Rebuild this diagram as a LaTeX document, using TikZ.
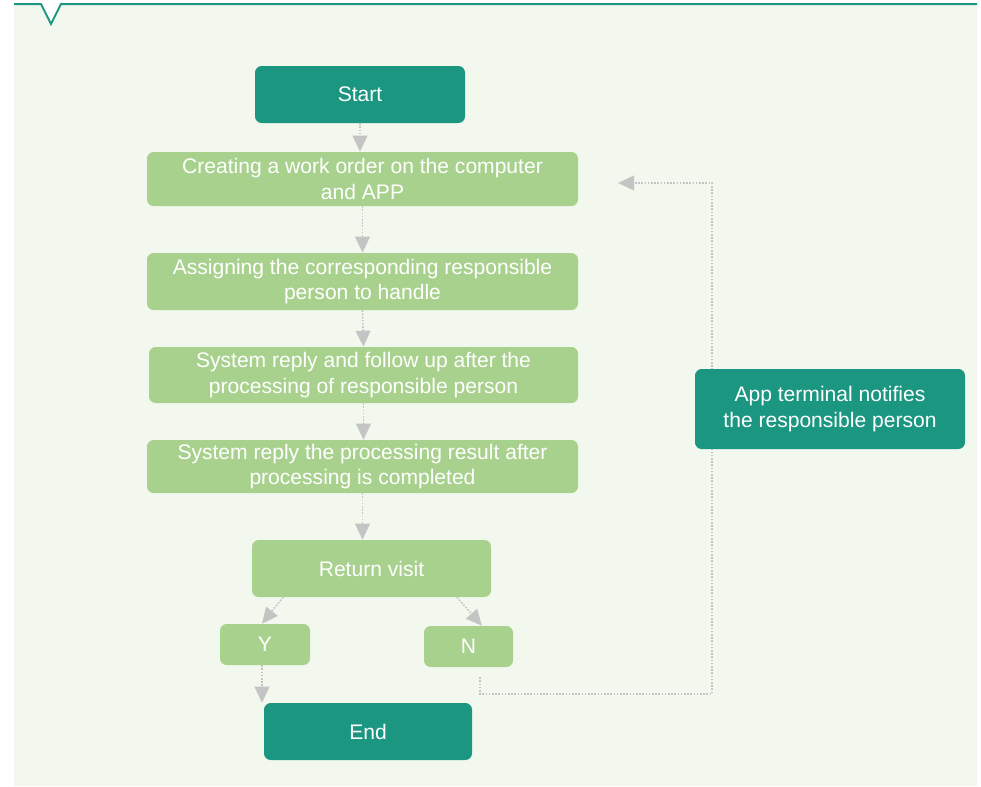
\documentclass[tikz,border=0pt]{standalone}
\usepackage{xcolor}
\usepackage{fontspec}
\setmainfont{Liberation Sans}
\usepackage{tikz}
\usetikzlibrary{arrows.meta, positioning}
\definecolor{darkteal}{RGB}{27,150,128}
\definecolor{leafgreen}{RGB}{169,209,142}
\definecolor{panelgreen}{RGB}{242,248,238}
\definecolor{linegray}{RGB}{196,196,196}
\newdimen\px \px=0.75pt

\begin{document}
\begin{tikzpicture}[x=0.75pt, y=-0.75pt,
	tealbox/.style={draw=none, fill=darkteal, rounded corners=5pt, text=white, align=center, inner sep=0pt, font=\fontsize{15.8}{19}\selectfont},
	greenbox/.style={tealbox, fill=leafgreen},
	link/.style={linegray, line width=1.2pt, dash pattern=on 1.2pt off 1.2pt, -{Triangle[length=12pt,width=11pt]}}]
				\useasboundingbox (0,0) rectangle (981,786);
				% panel with the notch on top
				\fill[panelgreen] (14,4) -- (41,4) -- (51,24) -- (61,4) -- (977,4) -- (977,786) -- (14,786) -- cycle;
				\draw[darkteal, line width=1.5pt] (14,4) -- (41,4) -- (51,24) -- (61,4) -- (977,4);
				
				\node[tealbox, minimum width=210\px, minimum height=57\px] (start) at (360,94.5) {Start};
				\node[greenbox, minimum width=431\px, minimum height=54\px] (b1) at (362.5,179) {Creating a work order on the computer\\and APP};
				\node[greenbox, minimum width=431\px, minimum height=57\px] (b2) at (362.5,281.5) {Assigning the corresponding responsible\\person to handle};
				\node[greenbox, minimum width=429\px, minimum height=56\px] (b3) at (363.5,375) {System reply and follow up after the\\processing of responsible person};
				\node[greenbox, minimum width=431\px, minimum height=53\px] (b4) at (362.5,466.5) {System reply the processing result after\\processing is completed};
				\node[greenbox, minimum width=239\px, minimum height=57\px] (ret) at (371.5,568.5) {Return visit};
				\node[greenbox, minimum width=90\px, minimum height=41\px] (y) at (265,644.5) {Y};
				\node[greenbox, minimum width=89\px, minimum height=41\px] (n) at (468.5,646.5) {N};
				\node[tealbox, minimum width=208\px, minimum height=57\px] (endn) at (368,731.5) {End};
				
				\draw[link] (start.south) -- (start.south |- b1.north);
				\draw[link] (b1.south) -- (b2.north);
				\draw[link] (b2.south) -- (b3.north);
				\draw[link] (b3.south) -- (b3.south |- b4.north);
				\draw[link] (b4.south) -- (b4.south |- ret.north);
				\draw[link] ([xshift=-88.5\px]ret.south) -- ([xshift=-3\px]y.north);
				\draw[link] ([xshift=85.5\px]ret.south) -- ([xshift=13.5\px]n.north);
				\draw[link] ([xshift=-3\px]y.south) -- ([xshift=-3\px]y.south |- endn.north);
				
				% loop back, runs behind the app box
				\coordinate (turn1) at (712,694);
				\coordinate (turn2) at (712,183);
				\coordinate (back) at (618,183);
				\draw[link, shorten <=10\px] ([xshift=11.5\px]n.south) |- (turn1) -- (turn2) -- (back);
				
				\node[tealbox, minimum width=270\px, minimum height=80\px, font=\fontsize{15.8}{19.5}\selectfont] (app) at (830,409) {App terminal notifies\\the responsible person};
\end{tikzpicture}
\end{document}
